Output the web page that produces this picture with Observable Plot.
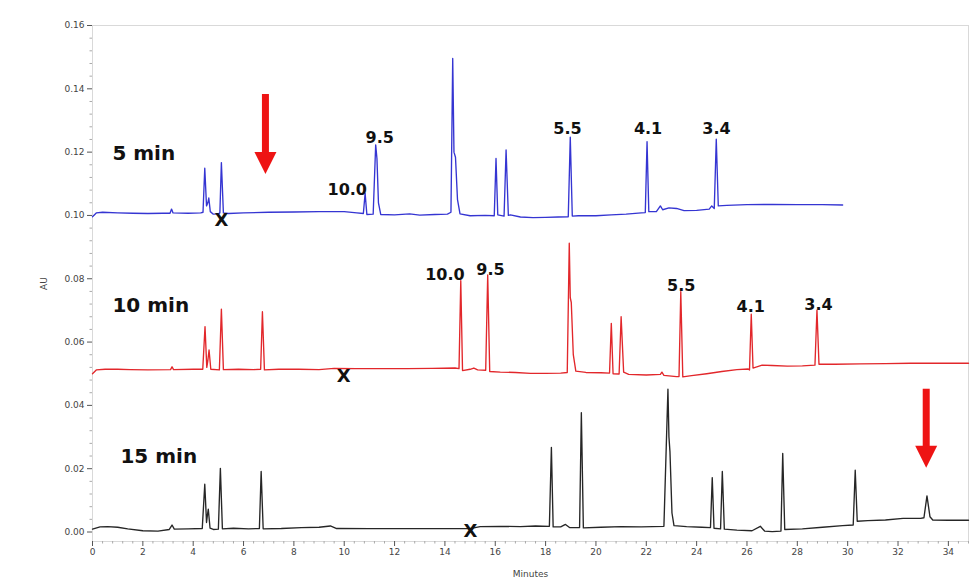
<!DOCTYPE html>
<html><head><meta charset="utf-8">
<script src="https://cdn.jsdelivr.net/npm/d3@7"></script>
<script src="https://cdn.jsdelivr.net/npm/@observablehq/plot@0.6"></script>
<style>html,body{margin:0;padding:0;background:#fff;}</style>
</head><body><div id="chart"></div>
<script>
// ---- tick labels ----
const xTicks = [0,2,4,6,8,10,12,14,16,18,20,22,24,26,28,30,32,34];
const yTicks = [0,0.02,0.04,0.06,0.08,0.10,0.12,0.14,0.16];

// ---- chromatogram traces: [minutes, AU] ----
const trace5min = [
 [0,0.0996],[0.15,0.1008],[0.4,0.1010],[1.0,0.1008],[1.6,0.1007],[2.2,0.1006],[2.8,0.1007],[3.08,0.1007],[3.14,0.1020],[3.2,0.1008],
 [3.8,0.1007],[4.3,0.1008],[4.39,0.1010],[4.46,0.1149],[4.53,0.1030],[4.58,0.1040],[4.62,0.1055],[4.68,0.1012],[4.8,0.1004],[5.0,0.1005],
 [5.06,0.1008],[5.12,0.1167],[5.2,0.1008],[5.4,0.1006],[6.0,0.1008],[7.0,0.1010],[8.0,0.1011],[9.0,0.1012],[10.0,0.1012],[10.5,0.1008],
 [10.76,0.1006],[10.83,0.1070],[10.9,0.1003],[11.15,0.1004],[11.25,0.1223],[11.3,0.1180],[11.36,0.1040],[11.45,0.1003],[12.0,0.1002],
 [12.6,0.1005],[13.0,0.1001],[13.6,0.1003],[14.1,0.1004],[14.24,0.1010],[14.31,0.1496],[14.36,0.1200],[14.42,0.1184],[14.5,0.1050],
 [14.6,0.1005],[15.0,0.0999],[15.6,0.1000],[15.96,0.0999],[16.03,0.1180],[16.1,0.1002],[16.35,0.0998],[16.43,0.1207],[16.52,0.1000],
 [16.6,0.1002],[17.0,0.0995],[17.5,0.0993],[18.0,0.0994],[18.5,0.0995],[18.9,0.0996],[18.98,0.1247],[19.06,0.0998],[19.3,0.0999],
 [20.0,0.0999],[20.6,0.1002],[21.2,0.1004],[21.8,0.1008],[21.96,0.1009],[22.03,0.1233],[22.1,0.1012],[22.4,0.1012],[22.56,0.1030],
 [22.65,0.1018],[22.9,0.1024],[23.2,0.1022],[23.5,0.1015],[24.0,0.1016],[24.5,0.1020],[24.6,0.1030],[24.7,0.1022],[24.78,0.1241],
 [24.86,0.1030],[25.2,0.1032],[26.0,0.1034],[27.0,0.1035],[28.0,0.1034],[29.0,0.1034],[29.8,0.1033]
];
const trace10min = [
 [0,0.0500],[0.15,0.0512],[0.5,0.0514],[1.0,0.0514],[1.5,0.0513],[2.2,0.0512],[3.1,0.0513],[3.16,0.0522],[3.22,0.0513],[4.0,0.0514],
 [4.38,0.0514],[4.47,0.0649],[4.54,0.0520],[4.58,0.0540],[4.63,0.0575],[4.7,0.0514],[5.04,0.0512],[5.12,0.0704],[5.2,0.0513],[5.8,0.0514],
 [6.4,0.0513],[6.68,0.0514],[6.75,0.0696],[6.83,0.0512],[7.4,0.0514],[8.2,0.0514],[9.0,0.0513],[9.6,0.0517],[10.5,0.0516],[11.5,0.0516],
 [12.5,0.0516],[13.5,0.0517],[14.4,0.0518],[14.56,0.0516],[14.63,0.0794],[14.7,0.0510],[15.0,0.0514],[15.15,0.0518],[15.3,0.0512],
 [15.62,0.0511],[15.70,0.0812],[15.78,0.0507],[16.2,0.0505],[16.8,0.0504],[17.4,0.0501],[18.0,0.0501],[18.6,0.0502],[18.86,0.0504],
 [18.94,0.0912],[18.98,0.0740],[19.02,0.0725],[19.1,0.0560],[19.2,0.0508],[19.6,0.0504],[20.2,0.0503],[20.54,0.0502],[20.61,0.0659],
 [20.68,0.0500],[20.92,0.0499],[21.0,0.0680],[21.1,0.0505],[21.3,0.0498],[22.0,0.0496],[22.56,0.0498],[22.62,0.0505],[22.7,0.0495],
 [23.2,0.0491],[23.3,0.0491],[23.37,0.0759],[23.45,0.0490],[23.8,0.0494],[24.4,0.0500],[25.0,0.0507],[25.6,0.0513],[26.05,0.0515],
 [26.1,0.0512],[26.17,0.0688],[26.24,0.0518],[26.6,0.0527],[27.0,0.0526],[27.6,0.0524],[28.2,0.0525],[28.7,0.0527],[28.78,0.0701],
 [28.86,0.0530],[29.5,0.0530],[30.5,0.0531],[31.5,0.0532],[32.5,0.0533],[33.5,0.0533],[34.8,0.0533]
];
const trace15min = [
 [0,0.0009],[0.3,0.0016],[0.6,0.0017],[1.0,0.0015],[1.4,0.0010],[2.0,0.0004],[2.6,0.0003],[3.05,0.0008],[3.16,0.0022],[3.25,0.0009],
 [3.8,0.0010],[4.36,0.0011],[4.46,0.0151],[4.53,0.0030],[4.56,0.0050],[4.6,0.0072],[4.67,0.0012],[4.8,0.0008],[5.0,0.0009],[5.08,0.0201],
 [5.16,0.0010],[5.6,0.0012],[6.2,0.0010],[6.63,0.0011],[6.7,0.0191],[6.78,0.0010],[7.5,0.0011],[8.3,0.0014],[9.0,0.0015],[9.45,0.0019],
 [9.7,0.0011],[11,0.00105],[13,0.00105],[15.0,0.00105],[15.4,0.0017],[16.2,0.0018],[17.0,0.0017],[17.6,0.0019],[18.15,0.0018],
 [18.23,0.0267],[18.3,0.0016],[18.6,0.0016],[18.79,0.0024],[18.95,0.0014],[19.35,0.0014],[19.42,0.0377],[19.5,0.0013],[20.2,0.0015],
 [21.0,0.0017],[21.8,0.0016],[22.7,0.0018],[22.86,0.0451],[22.9,0.0300],[22.94,0.0254],[23.02,0.0060],[23.1,0.0020],[23.6,0.0017],
 [24.2,0.0015],[24.55,0.0014],[24.62,0.0172],[24.69,0.0012],[24.95,0.0010],[25.02,0.0191],[25.1,0.0009],[25.6,0.0006],[26.2,0.0004],
 [26.53,0.0018],[26.7,0.0003],[27.0,0.0001],[27.35,0.0003],[27.42,0.0248],[27.5,0.0008],[28.2,0.0010],[29.0,0.0015],[29.8,0.0020],
 [30.22,0.0022],[30.3,0.0195],[30.38,0.0034],[30.8,0.0036],[31.5,0.0038],[32.2,0.0043],[32.9,0.0043],[33.03,0.0045],[33.15,0.0114],
 [33.27,0.0048],[33.38,0.0038],[34.0,0.0037],[34.8,0.0037]
];

// ---- annotations ----
const seriesNames = ["5 min","10 min","15 min"];
const seriesColors = ["#3535d2","#e2272b","#262626"];
const seriesLabelT = [0.79, 0.79, 1.11];
const seriesLabelV = [0.1176, 0.0696, 0.0217];

const peakText = ["10.0","9.5","5.5","4.1","3.4","10.0","9.5","5.5","4.1","3.4"];
const peakT    = [10.12,11.41,18.87,22.07,24.79,14.0,15.81,23.39,26.15,28.84];
const peakV    = [0.1065,0.1228,0.1257,0.1257,0.1257,0.0796,0.0812,0.0762,0.0696,0.0702];

const crossT = [5.12, 9.98, 15.01];
const crossV = [0.0984, 0.0491, 0.0001];

const arrowT    = [6.87, 33.12];
const arrowTop  = [0.1382, 0.0451];
const arrowHead = [0.1199, 0.0272];
const arrowTip  = [0.1131, 0.0203];

// ---- build tables ----
const traces = [trace5min, trace10min, trace15min];
const lineRows = traces.flatMap((tr, i) => tr.map(([t, v]) => ({t, v, s: seriesNames[i]})));
const seriesRows = seriesNames.map((n, i) => ({n, t: seriesLabelT[i], v: seriesLabelV[i]}));
const peakRows = peakText.map((p, i) => ({p, t: peakT[i], v: peakV[i]}));
const crossRows = crossT.map((t, i) => ({t, v: crossV[i]}));
const arrowRows = arrowT.map((t, i) => ({t, top: arrowTop[i], head: arrowHead[i] - 0.0005, tip: arrowTip[i]}));

const xMinor = d3.range(0, 34.81, 0.4).filter(d => Math.abs(d / 2 - Math.round(d / 2)) > 1e-6);
const yMinor = d3.range(0, 0.1601, 0.004).filter(d => Math.abs(d / 0.02 - Math.round(d / 0.02)) > 1e-6);

const downHead = {
  draw(ctx) { ctx.moveTo(-11, -22); ctx.lineTo(11, -22); ctx.lineTo(0, 0); ctx.closePath(); }
};

const chart = Plot.plot({
  width: 977, height: 578,
  marginLeft: 92, marginRight: 9, marginTop: 25, marginBottom: 37,
  style: {background: "#fff", fontFamily: "DejaVu Sans", fontSize: "9px", color: "#555"},
  x: {domain: [0, 34.8]},
  y: {domain: [-0.003, 0.16]},
  color: {domain: seriesNames, range: seriesColors},
  marks: [
    Plot.frame({stroke: "#d9d9d9"}),
    Plot.axisY({ticks: yMinor, tickSize: 2.5, tickFormat: () => "", label: null, stroke: "#aaa"}),
    Plot.axisX({ticks: xMinor, tickSize: 2.5, tickFormat: () => "", label: null, stroke: "#aaa"}),
    Plot.axisY({ticks: yTicks, tickSize: 5, tickPadding: 3, tickFormat: d => d.toFixed(2),
      label: "AU", labelAnchor: "center", labelArrow: "none", labelOffset: 52, fill: "#444"}),
    Plot.axisX({ticks: xTicks, tickSize: 5, tickPadding: 2, tickFormat: d => String(d),
      label: "Minutes", labelAnchor: "center", labelArrow: "none", labelOffset: 35, fill: "#444"}),
    Plot.line(lineRows, {x: "t", y: "v", z: "s", stroke: "s", strokeWidth: 1.35, strokeLinejoin: "round"}),
    Plot.ruleX(arrowRows, {x: "t", y1: "top", y2: "head", stroke: "#ee1414", strokeWidth: 7}),
    Plot.dot(arrowRows, {x: "t", y: "tip", symbol: downHead, r: 5, fill: "#ee1414", stroke: "none"}),
    Plot.text(seriesRows, {x: "t", y: "v", text: "n", textAnchor: "start", lineAnchor: "bottom",
      fontFamily: "DejaVu Sans", fontWeight: "bold", fontSize: 20, fill: "#111"}),
    Plot.text(peakRows, {x: "t", y: "v", text: "p", textAnchor: "middle", lineAnchor: "bottom",
      fontFamily: "DejaVu Sans", fontWeight: "bold", fontSize: 16, fill: "#111"}),
    Plot.text(crossRows, {x: "t", y: "v", text: () => "X", textAnchor: "middle", lineAnchor: "middle",
      fontFamily: "DejaVu Sans", fontWeight: "bold", fontSize: 18, fill: "#111"})
  ]
});
document.getElementById("chart").append(chart);
</script></body></html>
